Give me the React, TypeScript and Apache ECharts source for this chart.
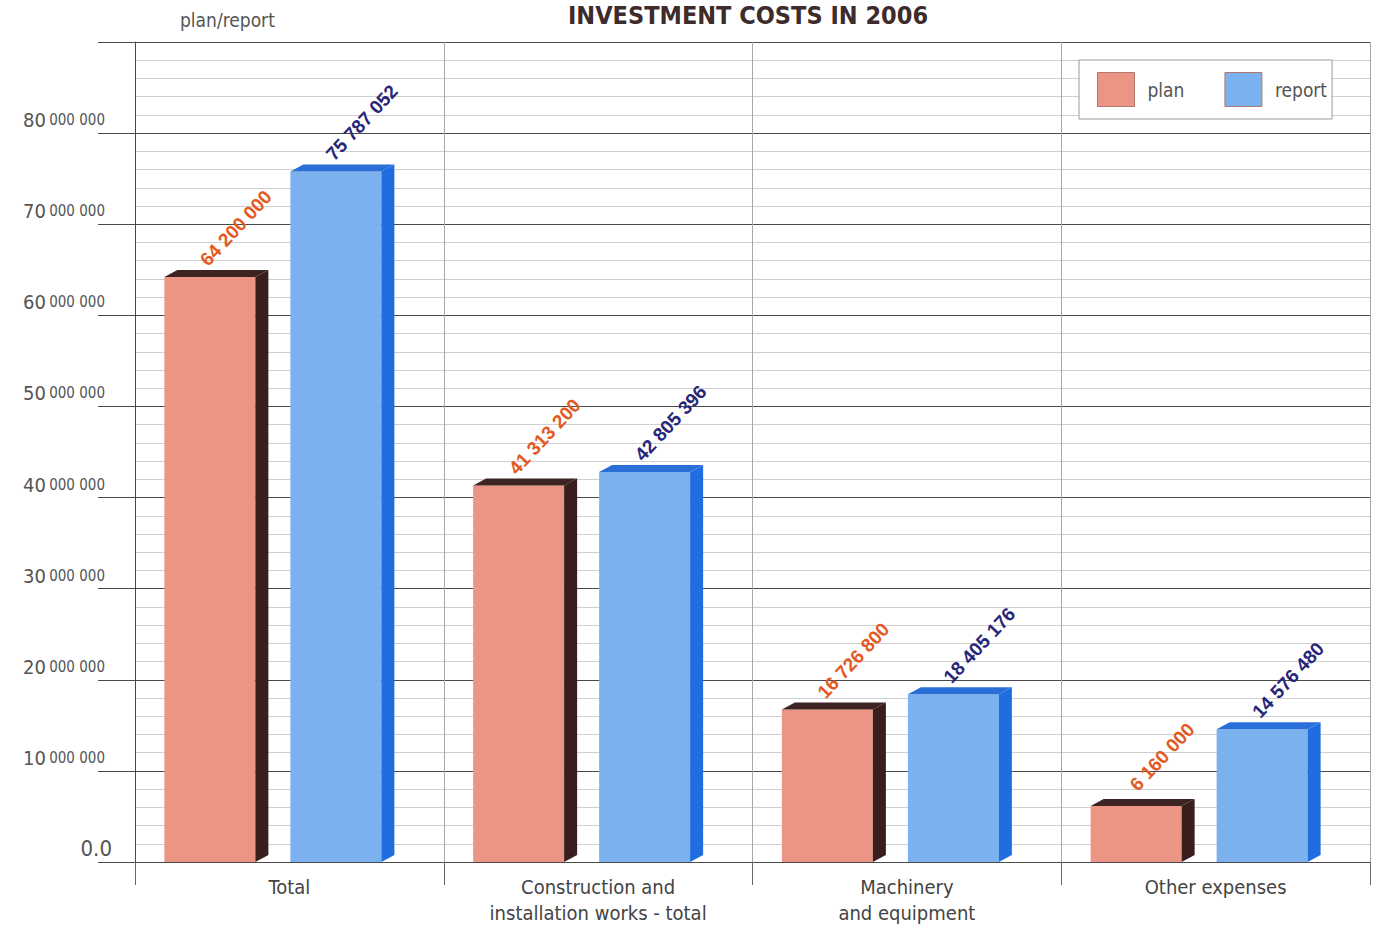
import React, { useEffect, useRef } from "react";
import * as echarts from "echarts";

const categories = [
  "Total",
  "Construction and\ninstallation works - total",
  "Machinery\nand equipment",
  "Other expenses",
];
const planValues = [64200000, 41313200, 16726800, 6160000];
const reportValues = [75787052, 42805396, 18405176, 14576480];
const seriesNames = ["plan", "report"];

const NARROW = '"Liberation Sans Narrow", "DejaVu Sans Condensed", "Arial Narrow", sans-serif';
const SANS = '"Liberation Sans", Arial, sans-serif';

const COLORS = {
  plan: { front: "#ec9585", side: "#3a1e1d", top: "#3d2321", label: "#e25a22" },
  report: { front: "#7bb1ee", side: "#1f6de0", top: "#2a6fd8", label: "#27277a" },
};

function fmt(v: number): string {
  return String(Math.round(v)).replace(/\B(?=(\d{3})+(?!\d))/g, " ");
}

function makeRender(isPlan: boolean) {
  const c = isPlan ? COLORS.plan : COLORS.report;
  return (params: any, api: any) => {
    const cat = api.value(0);
    const val = api.value(1);
    const top = api.coord([cat, val]);
    const base = api.coord([cat, 0]);
    const bw = api.size([1, 0])[0];
    const k = bw / 308.75;
    const w = 91 * k;
    const x0 = top[0] + (isPlan ? -125 : 1) * k;
    const yT = top[1];
    const yB = base[1];
    const dx = 13;
    const dy = 7;
    return {
      type: "group",
      children: [
        {
          type: "rect",
          shape: { x: x0, y: yT, width: w, height: yB - yT },
          style: { fill: c.front },
        },
        {
          type: "polygon",
          shape: {
            points: [
              [x0 + w, yT],
              [x0 + w + dx, yT - dy],
              [x0 + w + dx, yB - dy],
              [x0 + w, yB],
            ],
          },
          style: { fill: c.side },
        },
        {
          type: "polygon",
          shape: {
            points: [
              [x0, yT],
              [x0 + dx, yT - dy],
              [x0 + w + dx, yT - dy],
              [x0 + w, yT],
            ],
          },
          style: { fill: c.top },
        },
        {
          type: "text",
          x: x0 + w / 2 + 26,
          y: yT - 49,
          rotation: (47 * Math.PI) / 180,
          style: {
            text: fmt(val),
            fill: c.label,
            fontSize: 19,
            fontWeight: "bold",
            fontFamily: SANS,
            align: "center",
            verticalAlign: "middle",
          },
        },
      ],
    };
  };
}

export default function App() {
  const ref = useRef<HTMLDivElement>(null);

  useEffect(() => {
    if (!ref.current) return;
    const chart = echarts.init(ref.current, null, { renderer: "svg" });
    chart.setOption({
      animation: false,
      backgroundColor: "#ffffff",
      title: [
        {
          text: "INVESTMENT COSTS IN 2006",
          left: 568,
          top: 3,
          padding: 0,
          textStyle: {
            fontFamily: NARROW,
            fontWeight: "bold",
            fontSize: 25,
            color: "#3e2b2b",
          },
        },
        {
          text: "plan/report",
          left: 180,
          top: 10,
          padding: 0,
          textStyle: {
            fontFamily: NARROW,
            fontWeight: "normal",
            fontSize: 19,
            color: "#555555",
          },
        },
      ],
      legend: {
        data: seriesNames,
        left: 1079,
        top: 60,
        orient: "horizontal",
        icon: "rect",
        itemWidth: 37,
        itemHeight: 34,
        itemGap: 40,
        backgroundColor: "#ffffff",
        borderColor: "#9a9a9a",
        borderWidth: 1,
        borderRadius: 0,
        padding: [12, 5, 12, 18],
        itemStyle: { borderColor: "#b07a70", borderWidth: 1 },
        textStyle: {
          fontFamily: NARROW,
          fontSize: 19,
          color: "#555555",
          padding: [0, 0, 0, 8],
        },
      },
      grid: { left: 135, right: 3, top: 42, bottom: 65, containLabel: false },
      xAxis: {
        type: "category",
        data: categories,
        boundaryGap: true,
        axisLine: { show: true, lineStyle: { color: "#4a4a4a", width: 1 } },
        axisTick: {
          show: true,
          interval: 0,
          length: 23,
          lineStyle: { color: "#666666", width: 1 },
        },
        axisLabel: {
          interval: 0,
          margin: 12,
          fontFamily: NARROW,
          fontSize: 20,
          lineHeight: 26,
          color: "#444444",
        },
        splitLine: { show: true, interval: 0, lineStyle: { color: "#a8a8a8", width: 1 } },
      },
      yAxis: {
        type: "value",
        min: 0,
        max: 90000000,
        interval: 10000000,
        axisLine: { show: true, lineStyle: { color: "#4a4a4a", width: 1 } },
        axisTick: { show: true, length: 37, lineStyle: { color: "#4a4a4a", width: 1 } },
        axisLabel: {
          margin: 30,
          verticalAlign: "bottom",
          padding: [0, 0, 3, 0],
          formatter: (v: number) => {
            if (v === 0) return "{z|0.0}";
            if (v >= 90000000) return "";
            return `{a|${v / 1000000}} {b|000 000}`;
          },
          rich: {
            a: { fontFamily: NARROW, fontSize: 20, color: "#555555" },
            b: { fontFamily: NARROW, fontSize: 15, color: "#555555" },
            z: { fontFamily: NARROW, fontSize: 22, color: "#555555", padding: [0, -7, 0, 0] },
          },
        },
        splitLine: { show: true, lineStyle: { color: "#4a4a4a", width: 1 } },
        minorTick: { show: false, splitNumber: 5 },
        minorSplitLine: { show: true, lineStyle: { color: "#cfcfcf", width: 1 } },
      },
      series: [
        {
          name: "plan",
          type: "custom",
          renderItem: makeRender(true),
          itemStyle: { color: COLORS.plan.front },
          encode: { x: 0, y: 1 },
          data: planValues.map((v, i) => [i, v]),
          z: 3,
        },
        {
          name: "report",
          type: "custom",
          renderItem: makeRender(false),
          itemStyle: { color: COLORS.report.front },
          encode: { x: 0, y: 1 },
          data: reportValues.map((v, i) => [i, v]),
          z: 3,
        },
      ],
    });
    return () => chart.dispose();
  }, []);

  return (
    <div
      ref={ref}
      style={{ position: "fixed", left: 0, top: 0, width: 1373, height: 927 }}
    />
  );
}
